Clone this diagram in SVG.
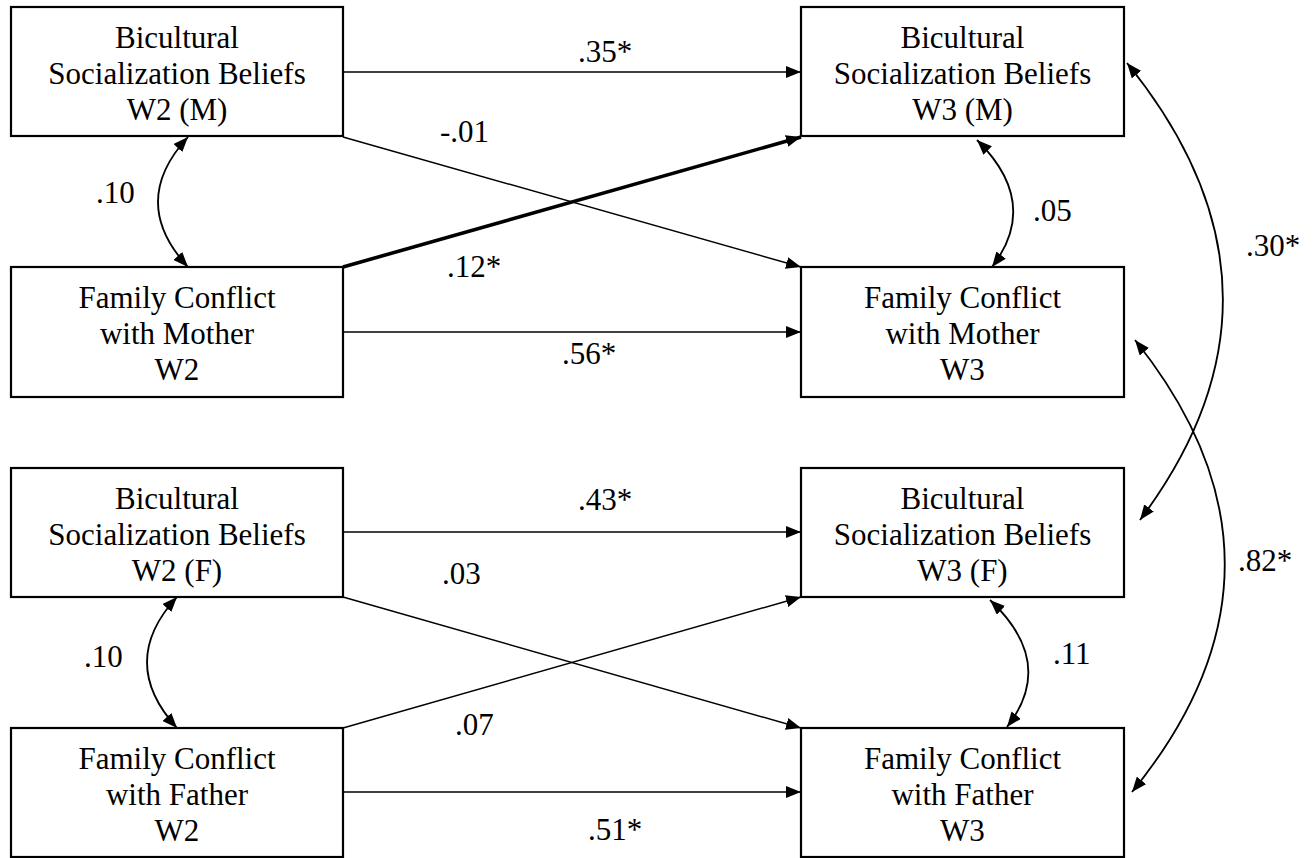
<svg xmlns="http://www.w3.org/2000/svg" width="1314" height="858" viewBox="0 0 1314 858">
<defs>
<style>
.box{fill:#fff;stroke:#000;stroke-width:2.2}
text{font-family:'Liberation Serif','Times New Roman',Times,'Nimbus Roman','Nimbus Roman No9 L','FreeSerif','DejaVu Serif','Noto Serif',serif;font-size:31px;fill:#000}
.t{text-anchor:middle}
.ln{fill:none;stroke:#000;stroke-width:1.4;marker-end:url(#ah)}
.thick{fill:none;stroke:#000;stroke-width:3.6;marker-end:url(#ah)}
.cv{fill:none;stroke:#000;stroke-width:1.8;marker-start:url(#ah);marker-end:url(#ah)}
</style>
<marker id="ah" markerUnits="userSpaceOnUse" markerWidth="16" markerHeight="12" refX="15" refY="6" orient="auto-start-reverse" viewBox="0 0 16 12">
<path d="M0,0 L15,6 L0,12 Z" fill="#000"/>
</marker>
</defs>
<rect width="1314" height="858" fill="#fff"/>

<g id="connectors">
<path class="ln" d="M343,72 L801,72"/>
<path class="ln" d="M343,137 L801,267"/>
<path class="thick" d="M343,267 L801,137"/>
<path class="ln" d="M343,332 L801,332"/>
<path class="ln" d="M343,532 L801,532"/>
<path class="ln" d="M343,597 L801,728"/>
<path class="ln" d="M343,728 L801,597"/>
<path class="ln" d="M343,792 L801,792"/>
<path class="cv" d="M188,137 Q128,202 188,267"/>
<path class="cv" d="M177,597 Q117,662 177,728"/>
<path class="cv" d="M977,140 Q1041,203 992,267"/>
<path class="cv" d="M990,600 Q1057,663 1007,727"/>
<path class="cv" d="M1127,63 Q1312,291 1140,520"/>
<path class="cv" d="M1135,340 Q1316,566 1132,792"/>
</g>

<g id="labels">
<text x="578" y="62">.35*</text>
<text x="440" y="142">-.01</text>
<text x="447" y="277">.12*</text>
<text x="562" y="364">.56*</text>
<text x="96" y="203">.10</text>
<text x="1033" y="221">.05</text>
<text x="1246" y="256">.30*</text>
<text x="578" y="510">.43*</text>
<text x="442" y="584">.03</text>
<text x="455" y="735">.07</text>
<text x="588" y="840">.51*</text>
<text x="84" y="667">.10</text>
<text x="1053" y="664">.11</text>
<text x="1238" y="571">.82*</text>
</g>

<g id="bsb-w2-m">
<rect class="box" x="11" y="7" width="332" height="129"/>
<text class="t" x="177" y="48">Bicultural</text>
<text class="t" x="177" y="84">Socialization Beliefs</text>
<text class="t" x="177" y="120">W2 (M)</text>
</g>
<g id="fc-mother-w2">
<rect class="box" x="11" y="267" width="332" height="130"/>
<text class="t" x="177" y="308">Family Conflict</text>
<text class="t" x="177" y="344">with Mother</text>
<text class="t" x="177" y="380">W2</text>
</g>
<g id="bsb-w2-f">
<rect class="box" x="11" y="468" width="332" height="129"/>
<text class="t" x="177" y="509">Bicultural</text>
<text class="t" x="177" y="545">Socialization Beliefs</text>
<text class="t" x="177" y="581">W2 (F)</text>
</g>
<g id="fc-father-w2">
<rect class="box" x="11" y="728" width="332" height="129"/>
<text class="t" x="177" y="769">Family Conflict</text>
<text class="t" x="177" y="805">with Father</text>
<text class="t" x="177" y="841">W2</text>
</g>

<g id="bsb-w3-m">
<rect class="box" x="801" y="7" width="323" height="129"/>
<text class="t" x="962.5" y="48">Bicultural</text>
<text class="t" x="962.5" y="84">Socialization Beliefs</text>
<text class="t" x="962.5" y="120">W3 (M)</text>
</g>
<g id="fc-mother-w3">
<rect class="box" x="801" y="267" width="323" height="130"/>
<text class="t" x="962.5" y="308">Family Conflict</text>
<text class="t" x="962.5" y="344">with Mother</text>
<text class="t" x="962.5" y="380">W3</text>
</g>
<g id="bsb-w3-f">
<rect class="box" x="801" y="468" width="323" height="129"/>
<text class="t" x="962.5" y="509">Bicultural</text>
<text class="t" x="962.5" y="545">Socialization Beliefs</text>
<text class="t" x="962.5" y="581">W3 (F)</text>
</g>
<g id="fc-father-w3">
<rect class="box" x="801" y="728" width="323" height="129"/>
<text class="t" x="962.5" y="769">Family Conflict</text>
<text class="t" x="962.5" y="805">with Father</text>
<text class="t" x="962.5" y="841">W3</text>
</g>
</svg>
